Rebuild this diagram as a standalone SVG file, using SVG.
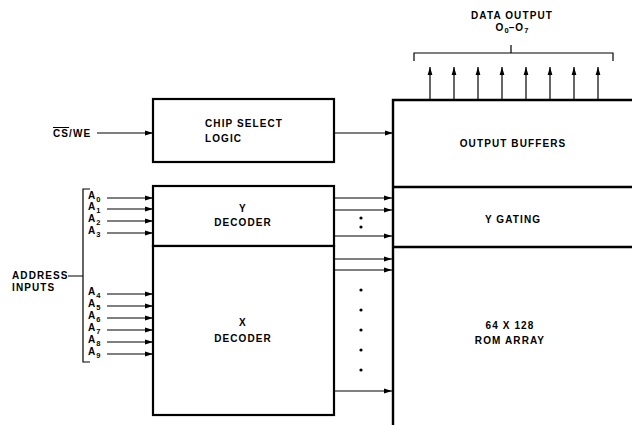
<svg xmlns="http://www.w3.org/2000/svg" width="632" height="425" viewBox="0 0 632 425">
<defs>
<marker id="ah" markerWidth="8" markerHeight="6" refX="8" refY="3" orient="auto" markerUnits="userSpaceOnUse">
<path d="M0,0.6 L8,3 L0,5.4 Z" fill="#000"/>
</marker>
<style>
.t{font-family:"Liberation Sans",Arial,sans-serif;font-weight:bold;font-size:10px;letter-spacing:1.1px;fill:#000}
.c{text-anchor:middle}
.s{font-size:7.5px;letter-spacing:0}
.box{fill:#fff;stroke:#000;stroke-width:2.2}
.ln{fill:none;stroke:#000;stroke-width:2.4}
.w{fill:none;stroke:#000;stroke-width:1.2}
.a{fill:none;stroke:#000;stroke-width:1.2;marker-end:url(#ah)}
</style>
</defs>
<rect width="632" height="425" fill="#fff"/>

<g id="chip-select">
<rect class="box" x="153" y="99" width="181" height="63"/>
<text class="t" x="205" y="127">CHIP SELECT</text>
<text class="t" x="205" y="142">LOGIC</text>
</g>

<g id="y-decoder">
<rect class="box" x="153" y="186" width="181" height="60"/>
<text class="t c" x="243" y="212">Y</text>
<text class="t c" x="243" y="226">DECODER</text>
</g>

<g id="x-decoder">
<rect class="box" x="153" y="246" width="181" height="169"/>
<text class="t c" x="243" y="326">X</text>
<text class="t c" x="243" y="342">DECODER</text>
</g>

<g id="output-buffers">
<path class="ln" d="M393,425 V100 H632"/>
<text class="t c" x="513" y="147">OUTPUT BUFFERS</text>
</g>

<g id="y-gating">
<path class="ln" d="M393,187 H632"/>
<text class="t c" x="513" y="223">Y GATING</text>
</g>

<g id="rom-array">
<path class="ln" d="M393,247 H632"/>
<text class="t c" x="510" y="329">64 X 128</text>
<text class="t c" x="510" y="344">ROM ARRAY</text>
</g>

<g id="labels">
<text class="t" x="53" y="137"><tspan style="text-decoration:overline">CS</tspan>/WE</text>
<text class="t c" x="512" y="19">DATA OUTPUT</text>
<text class="t c" x="512" y="31">O<tspan class="s" dy="2">0</tspan><tspan dy="-2">–O</tspan><tspan class="s" dy="2">7</tspan></text>
<text class="t" x="12" y="279">ADDRESS</text>
<text class="t" x="12" y="291">INPUTS</text>
<text class="t" x="88" y="199">A<tspan class="s" dy="3">0</tspan></text>
<text class="t" x="88" y="210">A<tspan class="s" dy="3">1</tspan></text>
<text class="t" x="88" y="222">A<tspan class="s" dy="3">2</tspan></text>
<text class="t" x="88" y="234">A<tspan class="s" dy="3">3</tspan></text>
<text class="t" x="88" y="295">A<tspan class="s" dy="3">4</tspan></text>
<text class="t" x="88" y="307">A<tspan class="s" dy="3">5</tspan></text>
<text class="t" x="88" y="319">A<tspan class="s" dy="3">6</tspan></text>
<text class="t" x="88" y="331">A<tspan class="s" dy="3">7</tspan></text>
<text class="t" x="88" y="343">A<tspan class="s" dy="3">8</tspan></text>
<text class="t" x="88" y="355">A<tspan class="s" dy="3">9</tspan></text>
</g>

<g id="connectors">
<path class="a" d="M97,133 H153"/>
<path class="a" d="M334,133 H393"/>
<path class="w" d="M90,189 H83 V362 H90 M68,276 H83"/>
<path class="w" d="M414,61 V53 H613 V61 M511,53 V45"/>
<path class="a" d="M107,198 H153"/>
<path class="a" d="M107,209 H153"/>
<path class="a" d="M107,221 H153"/>
<path class="a" d="M107,233 H153"/>
<path class="a" d="M107,294 H153"/>
<path class="a" d="M107,306 H153"/>
<path class="a" d="M107,318 H153"/>
<path class="a" d="M107,330 H153"/>
<path class="a" d="M107,342 H153"/>
<path class="a" d="M107,354 H153"/>
<path class="a" d="M335,198 H392"/>
<path class="a" d="M335,210 H392"/>
<path class="a" d="M335,236 H392"/>
<path class="a" d="M335,259 H392"/>
<path class="a" d="M335,270 H392"/>
<path class="a" d="M335,391 H392"/>
<path class="a" d="M430,99 V67"/>
<path class="a" d="M454,99 V67"/>
<path class="a" d="M478,99 V67"/>
<path class="a" d="M502,99 V67"/>
<path class="a" d="M526,99 V67"/>
<path class="a" d="M550,99 V67"/>
<path class="a" d="M574,99 V67"/>
<path class="a" d="M598,99 V67"/>
<g fill="#000">
<circle cx="361" cy="218" r="1.6"/>
<circle cx="361" cy="227" r="1.6"/>
<circle cx="361" cy="290" r="1.6"/>
<circle cx="361" cy="310" r="1.6"/>
<circle cx="361" cy="330" r="1.6"/>
<circle cx="361" cy="350" r="1.6"/>
<circle cx="361" cy="370" r="1.6"/>
</g>
</g>
</svg>
